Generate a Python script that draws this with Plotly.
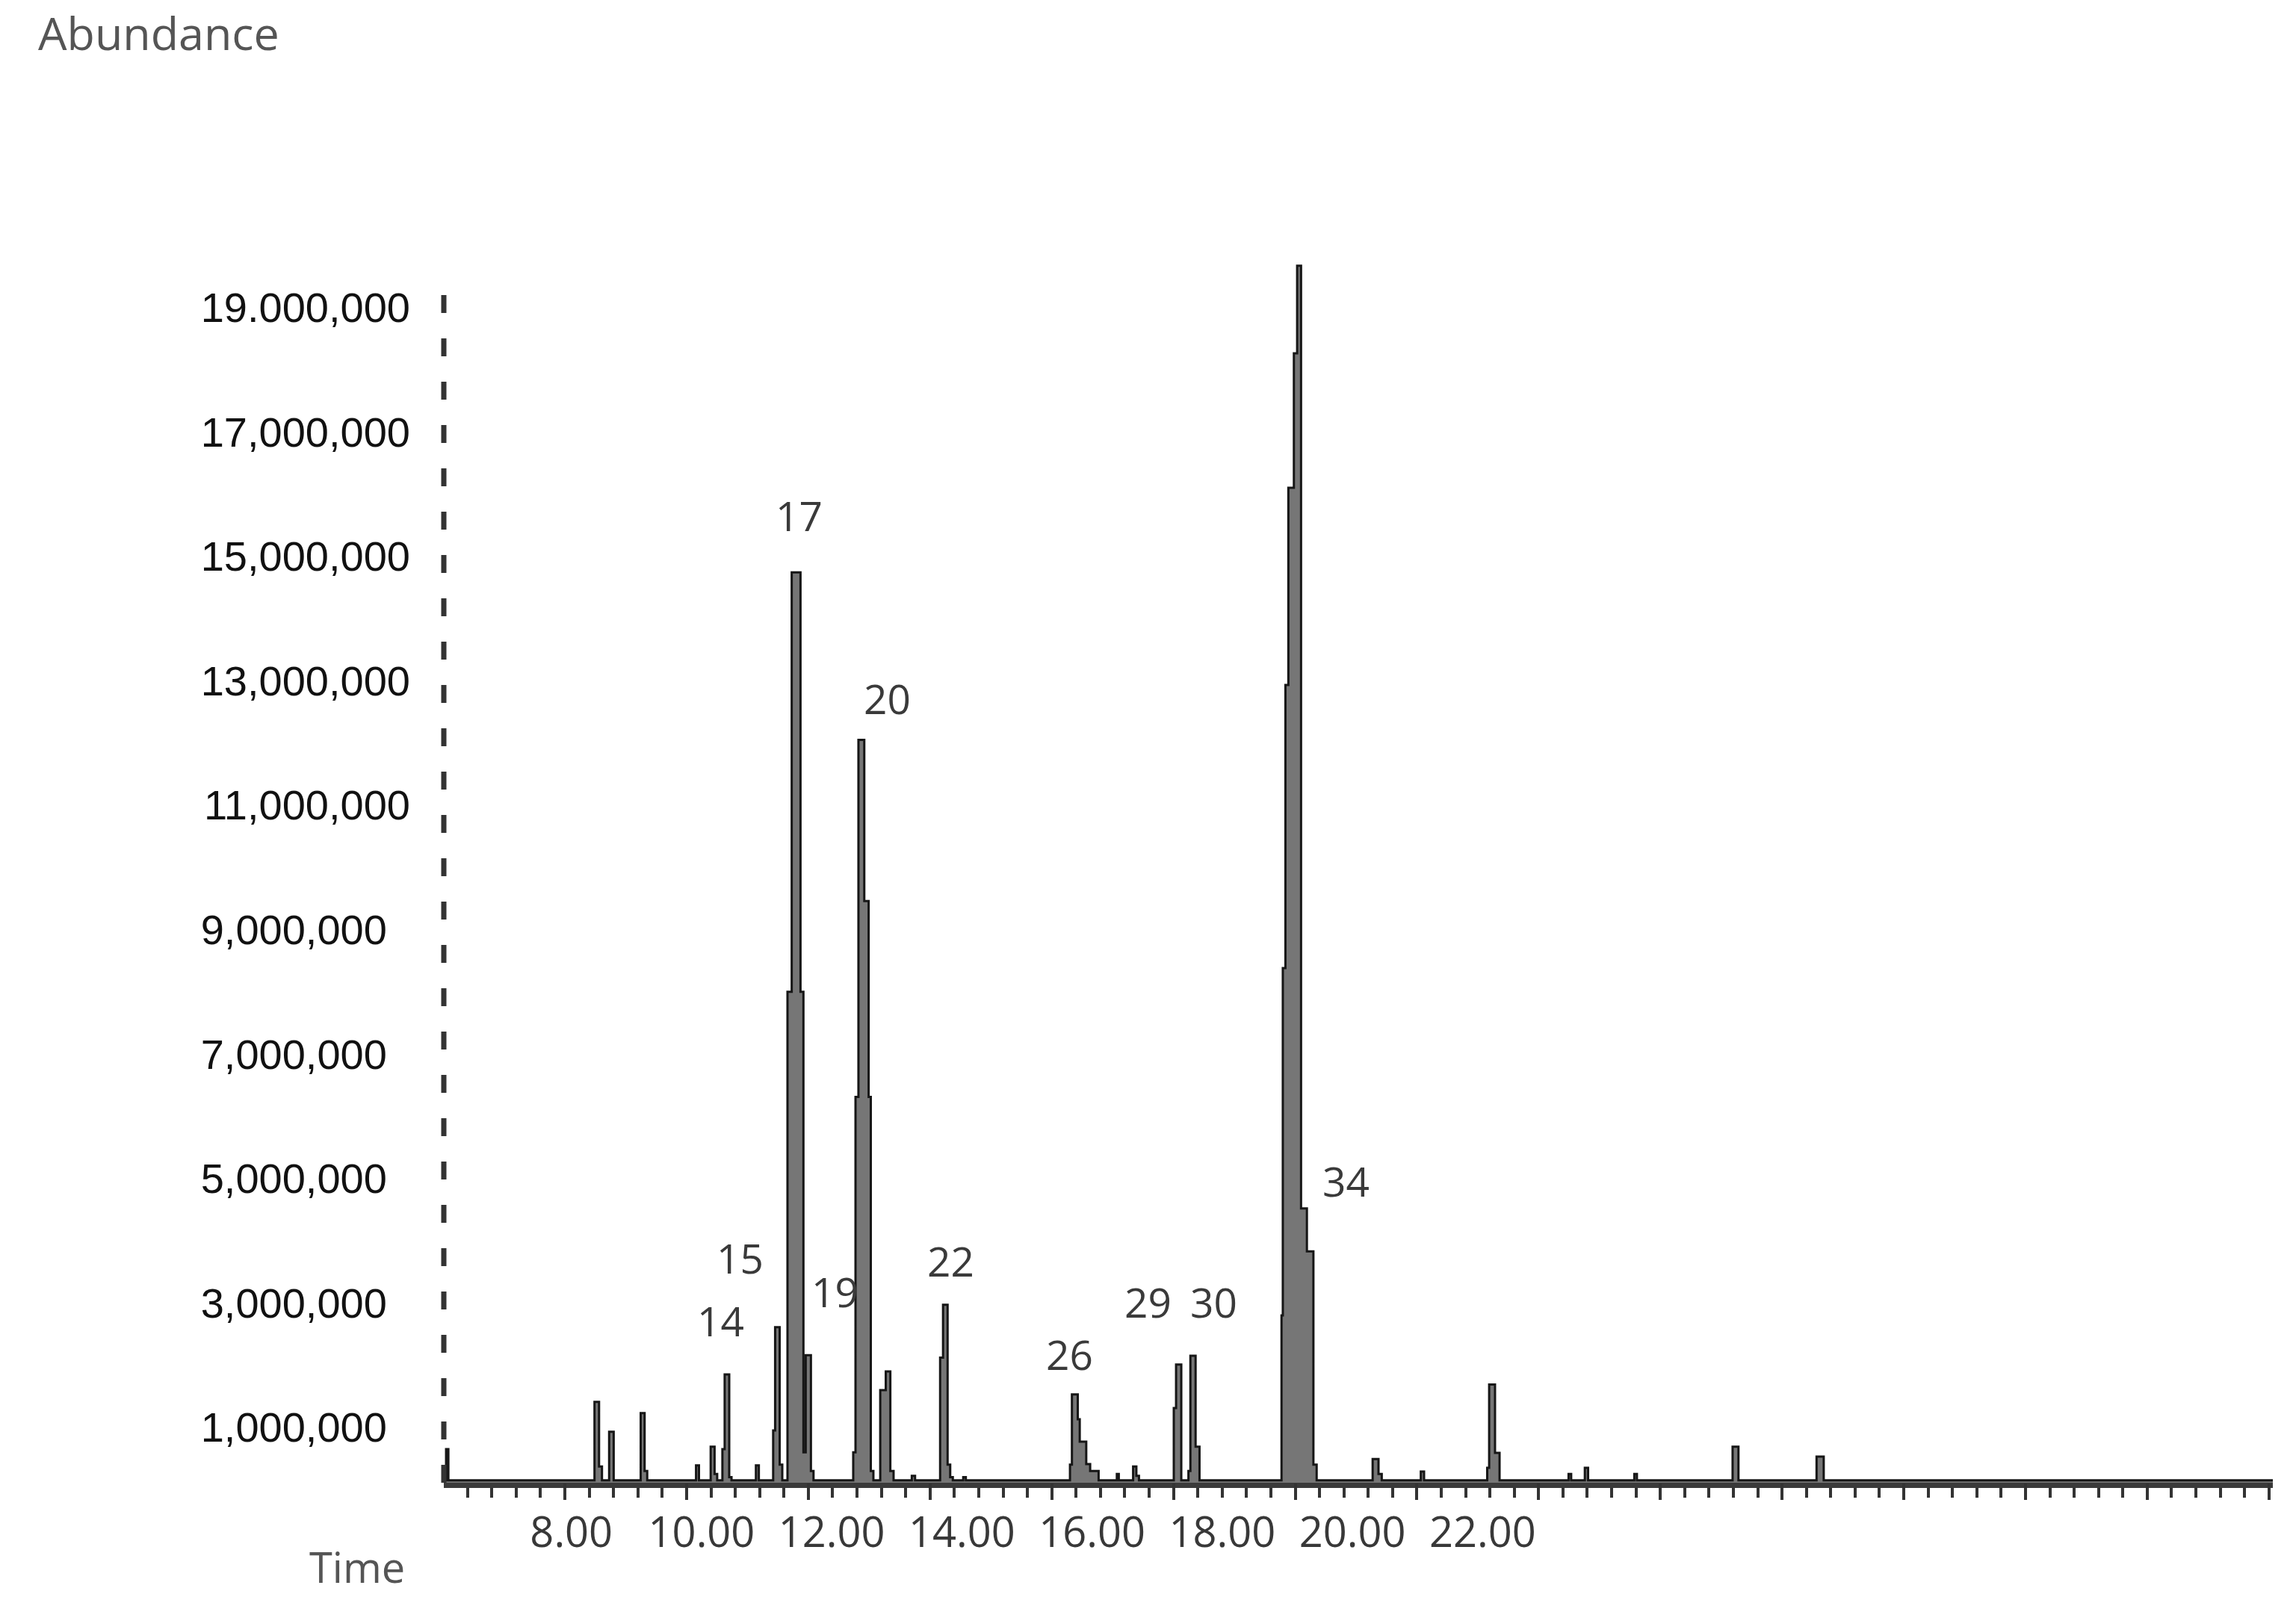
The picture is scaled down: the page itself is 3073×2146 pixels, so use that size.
import plotly.graph_objects as go

# ---------------- data ----------------
# step profile of the total ion chromatogram: (retention time [min], abundance [counts])
time_min = [
    6.040, 6.075, 6.110,
    8.355, 8.425, 8.470, 8.580, 8.650,
    9.065, 9.125, 9.165, 9.915, 9.960,
    10.140, 10.200, 10.240, 10.320, 10.355, 10.425, 10.460, 10.835, 10.880,
    11.100, 11.130, 11.200, 11.240, 11.320, 11.385, 11.520, 11.565, 11.600, 11.680, 11.720,
    12.330, 12.365, 12.410, 12.500, 12.567, 12.600, 12.640, 12.745, 12.830, 12.900, 12.950,
    13.230, 13.280, 13.665, 13.710, 13.780, 13.820, 13.860,
    14.020, 14.060,
    15.660, 15.690, 15.780, 15.810, 15.910, 15.970,
    16.100, 16.380, 16.410, 16.630, 16.680, 16.720,
    17.255, 17.290, 17.370, 17.480, 17.510, 17.590, 17.650,
    18.910, 18.930, 18.970,
    19.015, 19.100, 19.150, 19.210, 19.300, 19.400, 19.450,
    20.310, 20.400, 20.450,
    21.050, 21.100,
    22.070, 22.100, 22.190, 22.260,
    23.320, 23.360, 23.570, 23.620,
    24.330, 24.370,
    25.840, 25.930,
    27.130, 27.240,
    34.140,
]
abundance = [
    150000, 650000, 150000,
    1410000, 370000, 150000, 930000, 150000,
    1230000, 300000, 150000, 390000, 150000,
    690000, 250000, 150000, 650000, 1850000, 200000, 150000, 390000, 150000,
    950000, 2610000, 400000, 150000, 8000000, 14740000, 8000000, 600000, 2160000, 300000, 150000,
    600000, 6310000, 12050000, 9460000, 6310000, 300000, 150000, 1600000, 1900000, 300000, 150000,
    220000, 150000, 2120000, 2970000, 400000, 200000, 150000,
    200000, 150000,
    400000, 1530000, 1130000, 770000, 410000, 300000,
    150000, 250000, 150000, 370000, 220000, 150000,
    1310000, 2010000, 150000, 300000, 2150000, 690000, 150000,
    2800000, 8380000, 12930000,
    16100000, 18260000, 19670000, 4520000, 3830000, 400000, 150000,
    490000, 250000, 150000,
    290000, 150000,
    350000, 1690000, 590000, 150000,
    250000, 150000, 350000, 150000,
    250000, 150000,
    690000, 150000,
    530000, 150000,
    150000,
]

# numbered peak labels
peak_labels = ["14", "15", "17", "19", "20", "22", "26", "29", "30", "33", "34"]
label_time = [10.29, 10.59, 11.50, 12.05, 12.85, 13.83, 15.65, 16.86, 17.87, 19.25, 19.90]
label_abund = [2720000, 3730000, 15660000, 3190000, 12720000, 3680000, 2180000,
               3020000, 3020000, 20600000, 4970000]

# axis ticks
x_tick_vals = [8, 10, 12, 14, 16, 18, 20, 22]
x_tick_text = ["8.00", "10.00", "12.00", "14.00", "16.00", "18.00", "20.00", "22.00"]
y_tick_vals = [19000000, 17000000, 15000000, 13000000, 11000000,
               9000000, 7000000, 5000000, 3000000, 1000000]
y_tick_text = ["19.000,000", "17,000,000", "15,000,000", "13,000,000", "11,000,000",
               "9,000,000\u2007", "7,000,000\u2007", "5,000,000\u2007",
               "3,000,000\u2007", "1,000,000\u2007"]

X_RANGE = [6.04, 34.14]
Y_RANGE = [110000, 19750000]

# ---------------- figure ----------------
fig = go.Figure()

fig.add_trace(go.Scatter(
    x=time_min, y=abundance, mode="lines",
    line=dict(shape="hv", color="#161616", width=3),
    fill="tozeroy", fillcolor="#767676",
    hoverinfo="x+y", showlegend=False,
))

# invisible helper trace so that the second (long-tick) x axis is drawn
fig.add_trace(go.Scatter(
    x=time_min[:1], y=abundance[:1], xaxis="x2", mode="markers",
    marker=dict(opacity=0), hoverinfo="skip", showlegend=False,
))

for lab, t, a in zip(peak_labels, label_time, label_abund):
    fig.add_annotation(
        x=t, y=a, text=lab, showarrow=False,
        font=dict(family="Open Sans", size=55, color="#3a3a3a"),
        xanchor="center", yanchor="middle",
    )

# dashed vertical abundance axis
fig.add_shape(
    type="line", xref="paper", yref="y", x0=0, x1=0,
    y0=Y_RANGE[0], y1=19600000,
    line=dict(color="#333333", width=7, dash="24px,34px"),
)

fig.add_annotation(
    text="Abundance", xref="paper", yref="paper",
    x=-0.2226, y=1.187, xanchor="left", yanchor="middle", showarrow=False,
    font=dict(family="Open Sans", size=61, color="#555555"),
)
fig.add_annotation(
    text="Time", xref="paper", yref="paper",
    x=-0.0474, y=-0.0685, xanchor="center", yanchor="middle", showarrow=False,
    font=dict(family="Open Sans", size=56, color="#555555"),
)

fig.update_layout(
    width=3073, height=2146,
    margin=dict(l=594, r=31, t=349, b=161),
    paper_bgcolor="white", plot_bgcolor="white",
    showlegend=False,
    xaxis=dict(
        range=X_RANGE, showgrid=False, zeroline=False,
        showline=True, linecolor="#3a3a3a", linewidth=7,
        tickmode="array", tickvals=x_tick_vals, ticktext=x_tick_text,
        ticks="", ticklabelstandoff=12,
        tickfont=dict(family="Open Sans", size=56, color="#383838"),
        minor=dict(ticks="outside", tickmode="linear", tick0=6.03, dtick=0.374,
                   ticklen=13, tickwidth=4, tickcolor="#333333"),
    ),
    xaxis2=dict(
        overlaying="x", matches="x", anchor="y", side="bottom",
        showgrid=False, zeroline=False, showline=False,
        tickmode="linear", tick0=6.03, dtick=1.87,
        ticks="outside", ticklen=22, tickwidth=4, tickcolor="#333333",
        showticklabels=False,
    ),
    yaxis=dict(
        range=Y_RANGE, showgrid=False, zeroline=False, showline=False,
        tickmode="array", tickvals=y_tick_vals, ticktext=y_tick_text,
        ticks="", ticklabelstandoff=44,
        tickfont=dict(family="Liberation Sans", size=56, color="#111111"),
    ),
)

fig.write_html(
    "out.html",
    config={"displayModeBar": False},
    post_script="document.body.style.margin='0';document.body.style.overflow='hidden';",
)
